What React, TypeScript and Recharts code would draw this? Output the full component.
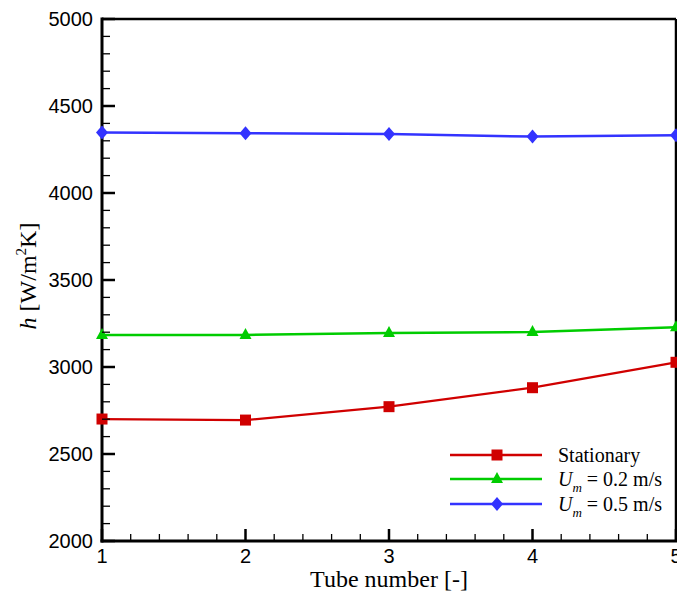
import React from "react";
import { LineChart, Line, XAxis, YAxis, Legend, ReferenceLine } from "recharts";

// Heat transfer coefficient per tube
const tubes = [1, 2, 3, 4, 5];
const stationary = [2701, 2695, 2772, 2881, 3027];
const um02 = [3184, 3184, 3195, 3201, 3228];
const um05 = [4347, 4343, 4339, 4324, 4332];

const xMajorTicks = [1, 2, 3, 4, 5];
const xMinorTicks = [1.2, 1.4, 1.6, 1.8, 2.2, 2.4, 2.6, 2.8, 3.2, 3.4, 3.6, 3.8, 4.2, 4.4, 4.6, 4.8];
const yMajorTicks = [2000, 2500, 3000, 3500, 4000, 4500, 5000];
const yMinorTicks = [
  2100, 2200, 2300, 2400, 2600, 2700, 2800, 2900, 3100, 3200, 3300, 3400,
  3600, 3700, 3800, 3900, 4100, 4200, 4300, 4400, 4600, 4700, 4800, 4900,
];

const RED = "#d00000";
const GREEN = "#00cc00";
const BLUE = "#3333ff";

const data = tubes.map((t, i) => ({
  tube: t,
  stationary: stationary[i],
  um02: um02[i],
  um05: um05[i],
}));

const xTicks = [...xMajorTicks, ...xMinorTicks].sort((a, b) => a - b);
const yTicks = [...yMajorTicks, ...yMinorTicks].sort((a, b) => a - b);

const tickFont = "'Liberation Sans', Arial, sans-serif";
const serifFont = "'Liberation Serif', 'Times New Roman', serif";

const XTick = (props: any) => {
  const { x, y, payload } = props;
  const major = xMajorTicks.includes(payload.value);
  return (
    <g>
      <line x1={x} y1={y} x2={x} y2={y - (major ? 12 : 7)} stroke="#000" strokeWidth={major ? 2.5 : 1.3} />
      {major && (
        <text x={x} y={y + 22} textAnchor="middle" fontFamily={tickFont} fontSize={20} fill="#000">
          {payload.value}
        </text>
      )}
    </g>
  );
};

const YTick = (props: any) => {
  const { x, y, payload } = props;
  const major = yMajorTicks.includes(payload.value);
  return (
    <g>
      <line x1={x} y1={y} x2={x + (major ? 13 : 8)} y2={y} stroke="#000" strokeWidth={major ? 2.5 : 1.3} />
      {major && (
        <text x={x - 9} y={y + 7} textAnchor="end" fontFamily={tickFont} fontSize={20} fill="#000">
          {payload.value}
        </text>
      )}
    </g>
  );
};

const Square = (props: any) => {
  const { cx, cy, index } = props;
  return <rect key={`sq-${index}`} x={cx - 5.5} y={cy - 5.5} width={11} height={11} fill={RED} />;
};

const Triangle = (props: any) => {
  const { cx, cy, index } = props;
  return (
    <polygon
      key={`tr-${index}`}
      points={`${cx},${cy - 7} ${cx + 6},${cy + 4} ${cx - 6},${cy + 4}`}
      fill={GREEN}
    />
  );
};

const Diamond = (props: any) => {
  const { cx, cy, index } = props;
  return (
    <polygon
      key={`di-${index}`}
      points={`${cx},${cy - 7} ${cx + 6},${cy} ${cx},${cy + 7} ${cx - 6},${cy}`}
      fill={BLUE}
    />
  );
};

const LegendBox = () => {
  const rows = [
    { color: RED, marker: "square" },
    { color: GREEN, marker: "triangle" },
    { color: BLUE, marker: "diamond" },
  ];
  const rowY = [17, 41, 66];
  return (
    <svg width={240} height={90} style={{ display: "block" }}>
      {rows.map((r, i) => {
        const y = rowY[i];
        const mx = 59;
        return (
          <g key={i}>
            <line x1={12} y1={y} x2={104} y2={y} stroke={r.color} strokeWidth={2.5} />
            {r.marker === "square" && <rect x={mx - 5.5} y={y - 5.5} width={11} height={11} fill={r.color} />}
            {r.marker === "triangle" && (
              <polygon points={`${mx},${y - 7} ${mx + 6},${y + 4} ${mx - 6},${y + 4}`} fill={r.color} />
            )}
            {r.marker === "diamond" && (
              <polygon points={`${mx},${y - 7} ${mx + 6},${y} ${mx},${y + 7} ${mx - 6},${y}`} fill={r.color} />
            )}
          </g>
        );
      })}
      <text x={120} y={rowY[0] + 7} fontFamily={serifFont} fontSize={20} fill="#000">
        Stationary
      </text>
      <text x={120} y={rowY[1] + 7} fontFamily={serifFont} fontSize={20} fill="#000">
        <tspan fontStyle="italic">U</tspan>
        <tspan fontStyle="italic" fontSize={13} dy={6}>m</tspan>
        <tspan dy={-6}> = 0.2 m/s</tspan>
      </text>
      <text x={120} y={rowY[2] + 7} fontFamily={serifFont} fontSize={20} fill="#000">
        <tspan fontStyle="italic">U</tspan>
        <tspan fontStyle="italic" fontSize={13} dy={6}>m</tspan>
        <tspan dy={-6}> = 0.5 m/s</tspan>
      </text>
    </svg>
  );
};

const YTitle = (props: any) => {
  const vb = props.viewBox || { x: 0, y: 11, width: 94, height: 522 };
  const cy = vb.y + vb.height / 2 - 4;
  return (
    <g transform={`translate(28, ${cy}) rotate(-90)`}>
      <text x={0} y={0} textAnchor="middle" fontFamily={serifFont} fontSize={24} fill="#000">
        <tspan fontStyle="italic">h</tspan>
        <tspan> [W/m</tspan>
        <tspan fontSize={15} dy={-10}>2</tspan>
        <tspan dy={10}>K]</tspan>
      </text>
    </g>
  );
};

const XTitle = (props: any) => {
  const vb = props.viewBox || { x: 94, y: 533, width: 574, height: 58 };
  return (
    <text
      x={vb.x + vb.width / 2}
      y={vb.y + 46}
      textAnchor="middle"
      fontFamily={serifFont}
      fontSize={24}
      fill="#000"
    >
      Tube number [-]
    </text>
  );
};

export default function App() {
  return (
    <LineChart
      width={677}
      height={591}
      data={data}
      margin={{ top: 11, right: 9, bottom: 0, left: 0 }}
      style={{ background: "#fff" }}
    >
      <XAxis
        dataKey="tube"
        type="number"
        domain={[1, 5]}
        ticks={xTicks}
        interval={0}
        height={58}
        tickSize={0}
        tickMargin={0}
        tickLine={false}
        tick={<XTick />}
        axisLine={{ stroke: "#000", strokeWidth: 3, strokeLinecap: "square" }}
        label={<XTitle />}
      />
      <YAxis
        type="number"
        domain={[2000, 5000]}
        ticks={yTicks}
        interval={0}
        width={94}
        tickSize={0}
        tickMargin={0}
        tickLine={false}
        tick={<YTick />}
        axisLine={{ stroke: "#000", strokeWidth: 3, strokeLinecap: "square" }}
        label={<YTitle />}
      />
      {/* frame: top and right edges of the plot box */}
      <ReferenceLine y={5000} stroke="#000" strokeWidth={2.5} ifOverflow="visible" />
      <ReferenceLine x={5} stroke="#000" strokeWidth={2.5} ifOverflow="visible" />
      <Line
        dataKey="stationary"
        name="Stationary"
        stroke={RED}
        strokeWidth={2.2}
        dot={Square}
        activeDot={false}
        isAnimationActive={false}
      />
      <Line
        dataKey="um02"
        name="Um = 0.2 m/s"
        stroke={GREEN}
        strokeWidth={2.5}
        dot={Triangle}
        activeDot={false}
        isAnimationActive={false}
      />
      <Line
        dataKey="um05"
        name="Um = 0.5 m/s"
        stroke={BLUE}
        strokeWidth={2.5}
        dot={Diamond}
        activeDot={false}
        isAnimationActive={false}
      />
      <Legend
        layout="vertical"
        align="center"
        verticalAlign="middle"
        wrapperStyle={{ left: 430, top: 430, width: 240, height: 90 }}
        content={() => <LegendBox />}
      />
    </LineChart>
  );
}
